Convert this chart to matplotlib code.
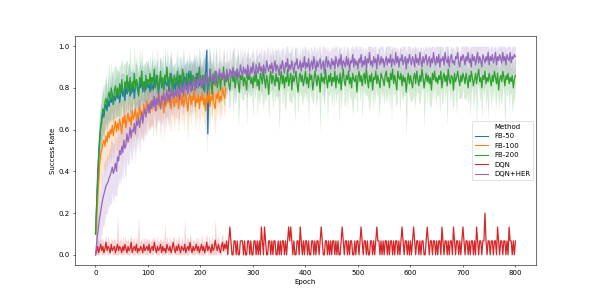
import numpy as np
import matplotlib
matplotlib.use("Agg")
import matplotlib.pyplot as plt
from matplotlib.lines import Line2D

# success rate in percent, one value every 2 epochs
step = 2

fb50_mean = [10, 24, 38, 48, 56, 61, 64, 68, 66, 70, 72, 69, 74, 71, 75, 73, 77, 72, 76, 74, 78,
             75, 79, 73, 77, 80, 76, 78, 74, 81, 77, 79, 83, 76, 80, 78, 82, 75, 81, 84, 79, 77, 82, 80, 85, 78, 81, 83, 79, 84, 80,
             82, 78, 85, 81, 79, 84, 80, 86, 82, 77, 83, 85, 80, 84, 79, 86, 82, 81, 85, 78, 83, 87, 80, 84, 82,
             79, 85, 83, 80, 86, 81, 84, 78, 87, 82, 85, 80, 83, 88, 81, 84, 79, 86, 82, 85, 80, 87, 83, 81, 86,
             82, 85, 79, 84, 88, 98, 58, 80, 86, 83, 85, 82]
fb50_band = [10, 13, 14, 13, 12, 11, 10, 11, 9, 10, 12, 9, 11, 8, 10, 9, 12, 8, 10, 9, 11,
             9, 12, 8, 10, 7, 11, 9, 8, 12, 7, 10, 9, 13, 8, 10, 7, 9, 11, 8, 10, 7, 12, 9, 8, 11, 7, 10, 9, 8, 12,
             8, 10, 7, 13, 9, 7, 11, 8, 10, 6, 12, 9, 8, 14, 7, 10, 8, 9, 12, 7, 11, 8, 10, 7, 9,
             8, 12, 7, 10, 9, 14, 8, 7, 11, 9, 8, 13, 7, 10, 8, 9, 12, 7, 15, 9, 8, 10, 7, 11, 9,
             8, 10, 9, 12, 8, 3, 3, 9, 10, 8, 9, 7]

fb100_mean = [10, 18, 28, 36, 44, 48, 50, 53, 55, 52, 57, 54, 59, 56, 60, 58, 62, 57, 61, 64, 59,
              63, 60, 65, 62, 58, 66, 63, 67, 61, 65, 68, 64, 66, 62, 69, 65, 67, 70, 64, 68, 66, 71, 67, 69, 65, 72, 68, 70, 74, 69,
              72, 68, 74, 70, 73, 76, 71, 69, 75, 72, 77, 70, 74, 73, 68, 76, 71, 75, 73, 78, 72, 70, 76, 74, 71,
              75, 73, 77, 70, 74, 79, 72, 76, 71, 74, 78, 73, 69, 75, 77, 72, 76, 74, 80, 71, 75, 73, 77, 70, 76,
              74, 78, 72, 75, 69, 77, 73, 79, 71, 76, 74, 78, 72, 70, 77, 75, 79, 73, 76, 74, 80, 77, 75, 80]
fb100_band = [10, 12, 14, 15, 14, 13, 14, 12, 13, 15, 12, 14, 11, 13, 12, 14, 11, 13, 12, 10, 12,
              11, 13, 10, 12, 15, 9, 11, 13, 10, 12, 9, 14, 10, 11, 8, 12, 10, 13, 9, 11, 10, 8, 12, 9, 11, 10, 13, 9, 8, 11,
              10, 8, 12, 9, 11, 7, 10, 13, 8, 9, 11, 7, 12, 9, 14, 8, 10, 9, 11, 7, 10, 12, 8, 9, 11,
              9, 8, 11, 13, 8, 7, 10, 9, 12, 8, 7, 11, 14, 9, 8, 10, 7, 9, 6, 12, 8, 10, 7, 11, 9,
              8, 10, 9, 12, 14, 8, 10, 7, 11, 9, 8, 7, 10, 12, 8, 9, 7, 10, 8, 9, 6, 8, 9, 7]

fb200_mean = [10, 22, 35, 46, 55, 62, 66, 70, 68, 73, 75, 71, 76, 78, 74, 80, 77, 72, 79, 81, 76,
              80, 75, 82, 78, 84, 79, 76, 83, 80, 86, 78, 82, 85, 77, 83, 80, 87, 79, 84, 81, 76, 85, 82, 88, 80, 83, 78, 86, 81, 84,
              82, 87, 79, 85, 83, 89, 80, 84, 86, 78, 83, 88, 81, 85, 79, 86, 84, 90, 82, 80, 87, 83, 85, 78, 86,
              84, 81, 88, 83, 79, 86, 82, 89, 85, 80, 84, 87, 78, 85, 83, 88, 81, 86, 84, 79, 87, 82, 85, 90, 83,
              80, 86, 84, 78, 87, 83, 85, 81, 89, 84, 77, 86, 82, 88, 85, 80, 83, 87, 79, 85, 84, 90, 81, 86, 83,
              87, 82, 79, 85, 88, 83, 86, 80, 84, 89, 82, 78, 86, 84, 87, 81, 85, 83, 79, 88, 84, 86, 82, 85, 80,
              86, 83, 88, 81, 84, 79, 87, 85, 82, 89, 84, 80, 86, 83, 77, 85, 88, 82, 86, 84, 81, 87, 83, 85, 79,
              84, 88, 82, 86, 80, 85, 83, 89, 81, 84, 87, 79, 86, 83, 85, 88, 82, 78, 85, 87, 83, 86, 81, 84, 88,
              82, 85, 80, 87, 84, 86, 79, 83, 88, 85, 81, 86, 84, 78, 87, 83, 85, 82, 89, 84, 80, 86, 83, 87, 81,
              85, 83, 88, 80, 86, 84, 82, 87, 79, 85, 89, 83, 81, 86, 84, 88, 82, 85, 80, 87, 84, 83, 86, 78, 85,
              88, 83, 86, 81, 85, 87, 82, 89, 84, 80, 86, 83, 87, 79, 85, 84, 88, 82, 86, 83, 80, 87, 85, 84, 81,
              86, 88, 83, 85, 80, 87, 84, 89, 82, 86, 83, 79, 88, 85, 84, 87, 81, 86, 83, 85, 78, 84, 87, 82, 86,
              83, 80, 85, 87, 82, 88, 84, 81, 86, 83, 89, 85, 80, 84, 87, 83, 86, 82, 85, 79, 87, 84, 88, 83, 85,
              82, 86, 84, 88, 80, 85, 87, 83, 86, 81, 89, 84, 82, 86, 85, 79, 87, 83, 85, 88, 84, 81, 86, 83, 87,
              85, 82, 87, 84, 80, 86, 83, 88, 85, 81, 84, 87, 82, 86, 89, 83, 85, 80, 86, 84, 88, 82, 85, 83, 87,
              84, 81, 86, 83, 88, 85, 82, 87, 79, 84, 86, 83, 88, 85, 81, 86, 84, 87, 82, 85, 83, 86, 80, 84, 86]
fb200_band = [10, 14, 15, 14, 13, 12, 12, 11, 13, 10, 12, 9, 11, 14, 10, 12, 9, 16, 11, 10, 13,
              9, 12, 8, 14, 10, 11, 15, 9, 12, 8, 13, 10, 16, 9, 11, 8, 14, 10, 12, 9, 11, 17, 8, 13, 10, 9, 12, 8, 11, 10,
              7, 9, 6, 14, 8, 7, 10, 6, 18, 8, 9, 7, 12, 6, 8, 20, 7, 9, 6, 11, 8, 15, 7, 9, 6,
              8, 6, 13, 7, 9, 6, 8, 19, 7, 10, 6, 8, 14, 7, 9, 6, 11, 8, 7, 16, 9, 6, 8, 12, 7,
              9, 7, 17, 6, 8, 10, 7, 22, 8, 6, 12, 9, 7, 8, 15, 6, 9, 7, 11, 8, 6, 18, 9, 7, 8,
              6, 12, 8, 7, 9, 16, 6, 8, 10, 7, 21, 8, 6, 9, 13, 7, 8, 6, 17, 9, 7, 10, 6, 8, 14,
              7, 9, 6, 15, 8, 7, 11, 6, 9, 19, 8, 7, 10, 6, 13, 8, 9, 7, 16, 6, 8, 11, 7, 9, 20,
              8, 6, 12, 7, 9, 17, 6, 8, 7, 10, 14, 6, 9, 8, 22, 7, 6, 11, 8, 9, 7, 15, 6, 8, 10,
              9, 7, 18, 6, 8, 11, 7, 9, 6, 14, 8, 7, 10, 20, 6, 9, 8, 12, 7, 6, 16, 9, 7, 8, 11,
              6, 13, 8, 7, 9, 6, 19, 8, 10, 7, 6, 12, 9, 7, 15, 8, 6, 10, 7, 21, 8, 9, 6, 11, 7,
              8, 10, 6, 16, 7, 9, 6, 12, 8, 7, 18, 9, 6, 10, 7, 13, 8, 6, 9, 17, 7, 8, 11, 6, 9,
              7, 15, 8, 6, 10, 7, 20, 9, 6, 8, 12, 7, 9, 6, 16, 8, 7, 11, 6, 9, 22, 7, 8, 6, 13,
              9, 6, 8, 17, 7, 10, 6, 8, 14, 7, 9, 6, 19, 8, 7, 11, 6, 9, 15, 7, 8, 10, 6, 12, 8,
              6, 9, 16, 7, 8, 12, 6, 9, 7, 20, 8, 6, 10, 7, 14, 9, 6, 8, 18, 7, 9, 6, 11, 8, 7,
              10, 7, 13, 6, 9, 8, 17, 7, 6, 11, 9, 8, 22, 6, 7, 10, 8, 15, 6, 9, 7, 12, 8, 19, 6,
              8, 11, 7, 9, 6, 16, 8, 7, 10, 6, 14, 9, 7, 8, 21, 6, 9, 7, 12, 8, 6, 18, 7, 9, 8]

# DQN: several runs up to epoch 248 (mean in percent) ...
dqn_early = [0, 2, 4, 1, 3, 5, 2, 4, 1, 3, 6, 2, 4, 3, 1, 5, 2, 3, 4, 1, 3, 5, 2, 4, 3,
             1, 4, 2, 5, 3, 1, 4, 2, 3, 6, 1, 3, 4, 2, 5, 1, 3, 2, 4, 3, 1, 5, 2, 3, 4,
             2, 5, 1, 3, 4, 2, 6, 3, 1, 4, 2, 3, 5, 1, 4, 2, 3, 1, 5, 3, 2, 4, 1, 3, 6,
             3, 1, 4, 2, 5, 3, 1, 4, 3, 2, 5, 1, 3, 4, 2, 6, 3, 1, 4, 2, 3, 5, 2, 4, 1,
             3, 5, 2, 4, 1, 3, 6, 2, 4, 3, 1, 5, 2, 3, 7, 4, 2, 5, 3, 1, 4, 6, 2, 5, 3]
dqn_band = [3, 4, 4, 5, 4, 3, 5, 4, 4, 5, 3, 4, 5, 4, 4, 3, 5, 4, 4, 5, 4, 14, 4, 3, 5,
            4, 5, 3, 4, 4, 5, 4, 3, 5, 4, 4, 5, 4, 3, 4, 5, 16, 4, 3, 5, 4, 4, 4, 5, 4,
            4, 3, 5, 4, 4, 5, 3, 4, 4, 5, 4, 4, 3, 5, 4, 4, 12, 5, 4, 3, 4, 5, 4, 4, 3,
            5, 4, 4, 3, 5, 4, 4, 5, 3, 4, 13, 4, 5, 4, 3, 4, 5, 4, 4, 5, 3, 4, 4, 5, 4,
            4, 5, 3, 4, 4, 5, 4, 3, 5, 4, 4, 5, 3, 4, 10, 4, 5, 4, 3, 4, 5, 4, 4, 3, 4]
# ... then a single run from epoch 250: successful episodes out of 15
dqn_late_hits = [1, 0, 1, 2, 1, 0, 0, 1, 1, 0, 1, 0, 0, 1, 1, 1, 0, 1, 0, 0, 1, 1, 0, 1, 0,
                 0, 1, 1, 0, 1, 0, 1, 0, 2, 1, 0, 2, 1, 0, 0, 1, 1, 0, 1, 0, 1, 1, 0, 0, 1,
                 0, 1, 0, 1, 1, 0, 1, 0, 1, 2, 1, 2, 1, 0, 1, 0, 0, 1, 1, 0, 2, 1, 0, 1, 0,
                 1, 1, 0, 1, 0, 0, 1, 1, 0, 1, 0, 1, 1, 0, 1, 2, 1, 0, 0, 1, 1, 0, 1, 0, 1,
                 0, 1, 1, 0, 1, 0, 1, 0, 0, 1, 2, 1, 0, 1, 1, 0, 1, 0, 1, 1, 0, 0, 1, 0, 1,
                 1, 0, 1, 2, 1, 0, 1, 1, 0, 1, 0, 0, 1, 1, 0, 1, 0, 1, 2, 1, 1, 0, 1, 0, 1,
                 0, 1, 1, 0, 1, 0, 1, 1, 0, 1, 0, 1, 1, 0, 1, 0, 1, 2, 1, 0, 1, 1, 0, 1, 0,
                 1, 0, 1, 2, 1, 0, 1, 1, 0, 1, 0, 1, 1, 0, 0, 1, 2, 1, 0, 1, 1, 0, 1, 1, 0,
                 1, 0, 1, 1, 0, 2, 1, 0, 1, 1, 0, 1, 0, 1, 1, 0, 2, 1, 0, 1, 1, 0, 1, 0, 1,
                 2, 1, 0, 1, 1, 0, 1, 0, 1, 1, 0, 1, 0, 2, 1, 0, 1, 1, 0, 1, 1, 3, 1, 0, 1,
                 1, 0, 1, 1, 0, 1, 1, 0, 2, 1, 0, 1, 1, 0, 1, 1, 0, 1, 0, 2, 1, 1, 0, 1, 0,
                 1]
episodes = 15

her_mean = [0, 5, 10, 14, 18, 21, 24, 27, 29, 31, 33, 34, 35, 37, 38, 40, 42, 39, 41, 44, 40,
            47, 45, 50, 48, 52, 49, 55, 51, 53, 58, 54, 57, 61, 56, 60, 59, 63, 58, 64, 62, 66, 61, 65, 68, 63, 67, 70, 66, 69, 72,
            68, 73, 70, 74, 71, 76, 69, 75, 72, 77, 73, 70, 76, 74, 78, 72, 75, 79, 74, 77, 73, 80, 76, 78, 75,
            79, 76, 81, 77, 74, 82, 78, 80, 76, 83, 79, 81, 77, 84, 80, 78, 83, 81, 85, 79, 82, 84, 80, 86, 82,
            84, 80, 86, 83, 81, 87, 84, 82, 88, 85, 83, 87, 84, 81, 88, 86, 83, 89, 85, 87, 84, 88, 86, 83, 89,
            86, 84, 89, 87, 85, 90, 86, 88, 84, 89, 87, 85, 91, 88, 86, 90, 87, 89, 85, 91, 88, 86, 90, 87, 92,
            88, 86, 91, 89, 87, 92, 88, 90, 86, 91, 89, 87, 93, 90, 88, 91, 89, 92, 87, 90, 93, 88, 91, 89, 86,
            91, 89, 93, 90, 87, 92, 90, 94, 88, 91, 89, 93, 90, 87, 92, 91, 94, 89, 90, 93, 88, 92, 90, 95, 89,
            92, 90, 94, 88, 91, 93, 89, 95, 91, 88, 93, 90, 92, 94, 89, 91, 93, 87, 92, 95, 90, 93, 91, 89, 94,
            91, 93, 89, 95, 92, 90, 94, 91, 96, 89, 93, 92, 90, 95, 91, 94, 88, 93, 92, 96, 90, 94, 91, 93, 89,
            94, 92, 96, 90, 93, 91, 95, 89, 94, 92, 97, 91, 93, 90, 95, 92, 94, 89, 96, 93, 91, 95, 92, 94, 90,
            93, 95, 91, 94, 92, 96, 90, 94, 93, 91, 97, 92, 95, 90, 94, 93, 96, 91, 93, 95, 89, 94, 92, 96, 93,
            91, 95, 93, 90, 96, 92, 94, 91, 97, 93, 90, 95, 92, 94, 96, 91, 93, 95, 90, 94, 92, 97, 93, 91, 95,
            92, 96, 90, 94, 93, 95, 91, 97, 93, 92, 95, 90, 94, 96, 92, 93, 91, 95, 94, 97, 92, 90, 95, 93, 96,
            94, 91, 95, 93, 97, 92, 94, 90, 96, 93, 95, 91, 94, 97, 92, 95, 93, 90, 96, 94, 92, 95, 93, 97, 91,
            95, 93, 96, 92, 94, 97, 91, 95, 93, 96, 94, 92, 97, 93, 95, 91, 96, 94, 93, 97, 92, 95, 94, 96, 95]
her_band = [0, 4, 8, 10, 12, 13, 14, 13, 15, 14, 13, 15, 12, 14, 13, 16, 12, 14, 13, 15, 12,
            14, 11, 13, 15, 12, 14, 11, 13, 16, 12, 11, 14, 10, 12, 13, 9, 11, 14, 10, 12, 9, 13, 10, 11, 8, 12, 10, 9, 11, 8,
            9, 12, 8, 11, 14, 9, 10, 13, 8, 12, 10, 15, 9, 11, 8, 13, 10, 12, 9, 16, 8, 11, 10, 9, 12,
            8, 11, 9, 14, 8, 10, 7, 12, 9, 8, 13, 7, 10, 9, 15, 8, 11, 7, 9, 12, 8, 10, 7, 13, 9,
            7, 10, 8, 12, 7, 40, 9, 7, 11, 8, 6, 14, 8, 7, 10, 6, 9, 13, 7, 8, 6, 11, 7, 9, 12,
            6, 8, 11, 7, 6, 9, 14, 7, 8, 6, 10, 7, 13, 6, 8, 7, 11, 6, 9, 15, 7, 8, 6, 10, 7,
            8, 6, 12, 7, 9, 6, 8, 14, 7, 6, 10, 8, 6, 11, 7, 9, 6, 13, 8, 7, 6, 10, 7, 16, 6,
            7, 9, 6, 11, 8, 6, 13, 7, 9, 6, 8, 12, 7, 6, 10, 8, 15, 6, 7, 9, 6, 11, 8, 7, 13,
            6, 8, 10, 7, 14, 6, 8, 7, 11, 6, 9, 7, 12, 8, 6, 10, 7, 16, 6, 8, 7, 11, 6, 9, 7,
            8, 6, 12, 7, 9, 6, 10, 8, 13, 6, 7, 9, 6, 11, 8, 14, 7, 6, 10, 7, 8, 6, 12, 7, 9,
            6, 10, 7, 8, 13, 6, 9, 7, 11, 8, 6, 15, 7, 9, 6, 10, 8, 7, 12, 6, 9, 7, 14, 8, 6,
            9, 7, 11, 6, 8, 12, 7, 6, 10, 8, 13, 6, 9, 7, 11, 6, 8, 16, 7, 9, 6, 10, 8, 7, 12,
            7, 9, 6, 13, 8, 7, 10, 6, 12, 8, 7, 9, 6, 14, 7, 8, 11, 6, 9, 7, 13, 8, 6, 10, 7,
            8, 6, 11, 7, 9, 14, 6, 8, 7, 12, 9, 6, 10, 8, 7, 15, 6, 9, 8, 11, 7, 6, 13, 8, 9,
            6, 10, 8, 7, 12, 6, 9, 14, 7, 8, 6, 11, 9, 7, 13, 6, 8, 10, 7, 16, 8, 6, 9, 11, 7,
            9, 7, 12, 6, 8, 10, 7, 13, 8, 6, 9, 11, 7, 14, 6, 8, 10, 7, 9, 12, 6, 8, 7, 11, 8]

dqn_mean = dqn_early + [h / episodes * 100 for h in dqn_late_hits]

methods = ["FB-50", "FB-100", "FB-200", "DQN", "DQN+HER"]
means = [fb50_mean, fb100_mean, fb200_mean, dqn_mean, her_mean]
bands = [fb50_band, fb100_band, fb200_band, dqn_band, her_band]
colors = ["#1f77b4", "#ff7f0e", "#2ca02c", "#d62728", "#9467bd"]

fig, ax = plt.subplots(figsize=(11.92, 5.96), dpi=50)

lines = []
for name, m, b, c in zip(methods, means, bands, colors):
    m = np.array(m) / 100
    b = np.array(b) / 100
    x = np.arange(len(m)) * step
    nb = len(b)  # band only where several runs exist
    lo = np.clip(m[:nb] - b, 0, 1)
    hi = np.clip(m[:nb] + b, 0, 1)
    ax.fill_between(x[:nb], lo, hi, color=c, alpha=0.2, linewidth=0)
    ln, = ax.plot(x, m, color=c, lw=1.8, label=name)
    lines.append(ln)

ax.set_xlabel("Epoch")
ax.set_ylabel("Success Rate")
ax.set_xticks(range(0, 801, 100))

# seaborn-style legend with the hue name as first row
handles = [Line2D([], [], color="none")]
labels = ["Method"]
for ln in lines:
    handles.append(Line2D([], [], color=ln.get_color(), lw=1.5))
    labels.append(ln.get_label())
ax.legend(handles, labels, loc="center right")

plt.savefig("out.png")
